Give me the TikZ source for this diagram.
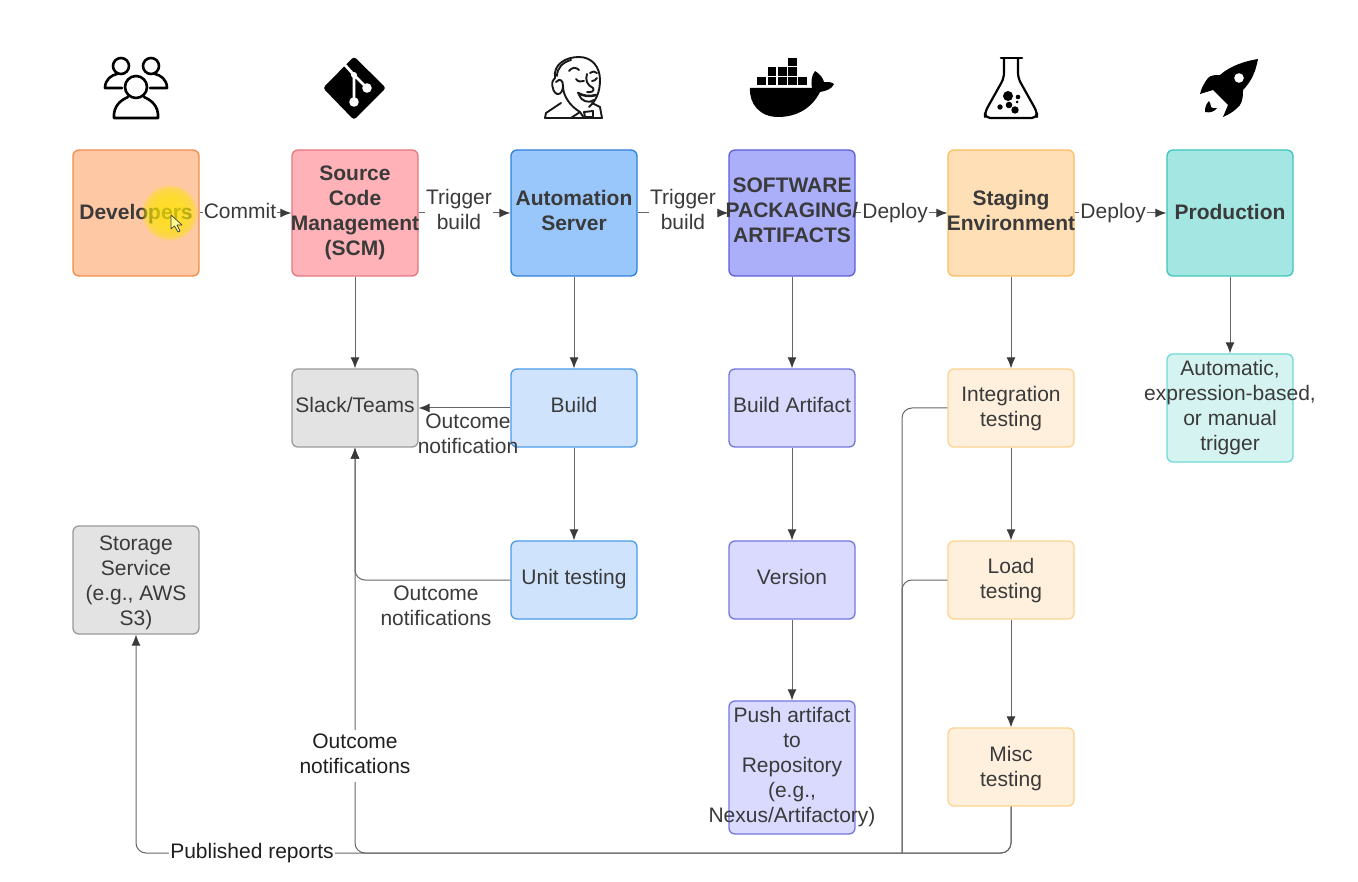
\documentclass[tikz,border=0pt]{standalone}
\usepackage{fontspec}
\setmainfont{Liberation Sans}
\usetikzlibrary{arrows.meta}
\definecolor{txt}{HTML}{3A3A3A}
\definecolor{lnk}{HTML}{666666}
% #1 = twice the downward shift of the text inside its shape
\newcommand\mlab[2][0pt]{\vbox{\kern#1\hbox{\makebox[0pt]{\begin{tabular}{@{}c@{}}#2\end{tabular}}}}}
\tikzset{
  box/.style={draw,rounded corners=6pt,line width=1.3pt,minimum width=126pt,inner sep=0pt,text=txt,
    font=\fontsize{21}{25}\selectfont},
  big/.style={box,minimum height=126pt,font=\fontsize{21}{25}\selectfont\bfseries},
  mid/.style={box,minimum height=78pt},
  devc/.style={fill=dF,draw=dB}, scmc/.style={fill=sF,draw=sB}, autoc/.style={fill=aF,draw=aB},
  packc/.style={fill=pF,draw=pB}, stagc/.style={fill=gF,draw=gB}, prodc/.style={fill=rF,draw=rB},
  greyc/.style={fill=yF,draw=yB}, autol/.style={fill=alF,draw=alB}, packl/.style={fill=plF,draw=plB},
  stagl/.style={fill=glF,draw=glB}, prodl/.style={fill=rlF,draw=rlB},
  conn/.style={draw=lnk,line width=1pt,-{Latex[length=11pt,width=9pt,color=txt]}},
  plain/.style={draw=lnk,line width=1pt},
  elab/.style={fill=white,inner sep=1pt,text=txt,align=center,font=\fontsize{21}{25}\selectfont},
  flab/.style={text=txt,inner sep=0pt,font=\fontsize{21}{25}\selectfont},
  dlab/.style={elab,text=black!88},
  ico/.style={line width=2.6pt,draw=black,line join=round,line cap=round},
  halo/.style={fill=yellow!90!orange,opacity=.14},
  x=1pt,y=-1pt
}
\definecolor{dF}{HTML}{FFC8A5}\definecolor{dB}{HTML}{EF8D4E}
\definecolor{sF}{HTML}{FFB3B8}\definecolor{sB}{HTML}{E5767F}
\definecolor{aF}{HTML}{99C7FB}\definecolor{aB}{HTML}{2F7FD9}
\definecolor{pF}{HTML}{ABAFFA}\definecolor{pB}{HTML}{5C5FD6}
\definecolor{gF}{HTML}{FFDFB5}\definecolor{gB}{HTML}{FDBD62}
\definecolor{rF}{HTML}{A4E6E2}\definecolor{rB}{HTML}{3EC4BE}
\definecolor{yF}{HTML}{E3E3E3}\definecolor{yB}{HTML}{9B9B9B}
\definecolor{alF}{HTML}{CFE3FD}\definecolor{alB}{HTML}{4C9CEB}
\definecolor{plF}{HTML}{D9DAFE}\definecolor{plB}{HTML}{7676E0}
\definecolor{glF}{HTML}{FFF0DE}\definecolor{glB}{HTML}{FCD38F}
\definecolor{rlF}{HTML}{D5F3F1}\definecolor{rlB}{HTML}{6FDAD5}
\begin{document}
\begin{tikzpicture}
\useasboundingbox[fill=white] (0,0) rectangle (1358,882);

% ---- icons
% users
\draw[ico] (121,66) circle (8);
\draw[ico] (151,66) circle (8);
\draw[ico] (122,88) -- (105,88) .. controls (105,79) and (112,75) .. (117,74);
\draw[ico] (150,88) -- (167,88) .. controls (167,79) and (160,75) .. (155,74);
\draw[ico] (136,87) circle (11);
\draw[ico] (114,118) -- (158,118) .. controls (159,106) and (151,100) .. (144,97)
   (128,97) .. controls (121,100) and (113,106) .. (114,118);
% git
\fill[black,rounded corners=3pt] (354,56.5) -- (386,88) -- (354,120) -- (323,88) -- cycle;
\draw[white,line width=2.8pt] (345,65) -- (354,75) -- (354,102) (354,75) -- (367,88);
\fill[white] (354,102) circle (4.8) (367,88) circle (4.8) (354,75) circle (3);
% jenkins
\begin{scope}[line width=1.9pt,draw=black!90,line join=round,line cap=round]
\draw (555,78) .. controls (553,64) and (566,57) .. (579,57)
   .. controls (592,57) and (600,67) .. (600,80)
   .. controls (600,92) and (596,101) .. (589,107);
\draw (557,76) .. controls (557,68) and (563,62) .. (571,60);
\draw (555,78) .. controls (551,80) and (551,91) .. (557,94) .. controls (561,95) and (563,90) .. (563,86);
\draw (563,86) .. controls (563,80) and (560,78) .. (556,82);
\draw (563,86) .. controls (563,96) and (570,106) .. (580,112);
\draw (569,71) .. controls (572,67) and (576,67) .. (579,70);
\draw (576,79) .. controls (578,82) and (581,82) .. (584,81);
\draw (590,73) .. controls (592,71) and (595,71) .. (597,73);
\draw (592,81) .. controls (594,81) and (596,80) .. (597,78);
\draw (587,74) .. controls (585,80) and (587,85) .. (593,88) .. controls (595,91) and (591,93) .. (587,92);
\draw[line width=2.5pt] (578,93) .. controls (583,96) and (590,97) .. (596,95);
\draw (579,95) .. controls (581,101) and (589,104) .. (594,100);
\draw (545,118) -- (602,118) -- (600,107) -- (592,103);
\draw (545,118) -- (546,113) -- (561,103);
\draw (571,118) -- (580,112) -- (584,118);
\draw (584,112) -- (593,111) -- (593,117) -- (585,117) -- cycle;
\end{scope}
% docker
\fill[black] (750,88) -- (812,88) .. controls (811,83) and (811,76) .. (815,71)
   .. controls (820,74) and (823,78) .. (824,82) .. controls (828,82) and (832,82) .. (834,84)
   .. controls (832,89) and (826,91) .. (820,92) .. controls (812,108) and (797,117) .. (778,117)
   .. controls (760,117) and (749,104) .. (750,88) -- cycle;
\foreach \cx/\cy in {757/77,767.5/77,778/77,788/77,798/77,767.5/67.5,778/67.5,788/67.5,788/58}
  \fill[black] (\cx,\cy) rectangle ++(8.6,8.4);
% flask
\draw[ico] (1001,58) -- (1022,58);
\draw[ico,line width=2.2pt,rounded corners=5pt] (1004,58) -- (1004,78) -- (985,112) -- (985,118) -- (1037,118) -- (1037,112) -- (1018,78) -- (1018,58);
\fill[black] (1008,96) circle (5) (1018,97) circle (2.3) (1000,107) circle (2.7)
   (1009,105) circle (3.3) (1017,102) circle (1.5) (1015,110) circle (3.7);
% rocket
\fill[black] (1258,59) .. controls (1245,61) and (1230,66) .. (1220,75)
   .. controls (1215,75) and (1211,75) .. (1208,78) .. controls (1204,83) and (1201,89) .. (1200,94)
   -- (1213,90) -- (1228,105) -- (1223,117)
   .. controls (1230,114) and (1236,110) .. (1240,105)
   .. controls (1243,100) and (1243,95) .. (1243,90)
   .. controls (1252,81) and (1256,70) .. (1258,59) -- cycle;
\fill[white] (1239,78) circle (4.8);
\fill[black] (1209,101) .. controls (1205,105) and (1205,109) .. (1205,112)
   .. controls (1210,113) and (1214,112) .. (1217,108)
   .. controls (1214,109) and (1212,108) .. (1211,107) .. controls (1211,105) and (1210,103) .. (1209,101) -- cycle;

% ---- top row
\node[big,devc] (dev) at (136,213) {\mlab[4pt]{Developers}};
\node[big,scmc] (scm) at (355,213) {\mlab{Source\\Code\\Management\\(SCM)}};
\node[big,autoc] (auto) at (574,213) {\mlab{Automation\\Server}};
\node[big,packc] (pack) at (792,213) {\mlab{SOFTWARE\\PACKAGING/\\ARTIFACTS}};
\node[big,stagc] (stag) at (1011,213) {\mlab{Staging\\Environment}};
\node[big,prodc] (prod) at (1230,213) {\mlab[4pt]{Production}};
% ---- second row
\node[mid,greyc] (slack) at (355,408) {\mlab{Slack/Teams}};
\node[mid,autol] (build) at (574,408) {\mlab{Build}};
\node[mid,packl] (bart) at (792,408) {\mlab{Build Artifact}};
\node[mid,stagl] (integ) at (1011,408) {\mlab[2pt]{Integration\\testing}};
\node[box,prodl,minimum height=108pt] (trig) at (1230,408) {\mlab{Automatic,\\expression-based,\\or manual\\trigger}};
% ---- third row
\node[box,greyc,minimum height=108pt] (store) at (136,580) {\mlab[6pt]{Storage\\Service\\(e.g., AWS\\S3)}};
\node[mid,autol] (unit) at (574,580) {\mlab[-2pt]{Unit testing}};
\node[mid,packl] (ver) at (792,580) {\mlab[-2pt]{Version}};
\node[mid,stagl] (load) at (1011,580) {\mlab[2pt]{Load\\testing}};
% ---- bottom
\node[box,packl,minimum height=133pt] (push) at (792,767.5) {\mlab[-1pt]{Push artifact\\to\\Repository\\(e.g.,\\Nexus/Artifactory)}};
\node[mid,stagl] (misc) at (1011,767) {\mlab[4pt]{Misc\\testing}};

% ---- highlight + cursor
\foreach \hr in {28,27,26,25,24,22,20,17,13}
  \fill[halo] (170,213) circle (\hr);
\fill[yellow!45!white,draw=black!75,line width=.7pt,line join=round] (171,215) -- (171,229) -- (174.5,226) -- (178,232) -- (180,231) -- (177,225) -- (182,225) -- cycle;

% ---- junction coordinates
\coordinate (joinA) at (902,853);
\coordinate (slackBend) at (355,853);
\coordinate (storeBend) at (136,853);

% ---- connectors
\draw[conn] (dev) -- node[elab,pos=.44,yshift=2.5pt] (l1) {Commit} (scm);
\draw[conn] (scm) -- node[elab,pos=.44,yshift=3.5pt] (l2) {Trigger\\build} (auto);
\draw[conn] (auto) -- node[elab,pos=.5,yshift=3.5pt] (l3) {Trigger\\build} (pack);
\draw[conn] (pack) -- node[elab,pos=.43,yshift=-0.5pt] (l4) {Deploy} (stag);
\draw[conn] (stag) -- node[elab,pos=.42,yshift=-0.5pt] (l5) {Deploy} (prod);
\draw[conn] (scm) -- (slack);
\draw[conn] (auto) -- (build);
\draw[conn] (pack) -- (bart);
\draw[conn] (stag) -- (integ);
\draw[conn] (prod) -- (trig);
\draw[conn] (build) -- (unit);
\draw[conn] (bart) -- (ver);
\draw[conn] (ver) -- (push);
\draw[conn] (integ) -- (load);
\draw[conn] (load) -- (misc);
\draw[conn] (build) -- (slack);
\draw[conn,rounded corners=10pt] (unit.west) -| (slack.south);
\draw[conn,rounded corners=10pt] (misc.south) |- (slackBend) -- (slack.south);
\draw[conn,rounded corners=10pt] (misc.south) |- (storeBend) -- (store.south);
\draw[plain,rounded corners=10pt] (integ.west) -| (joinA);
\draw[plain,rounded corners=10pt] (load.west) -| (joinA);

% ---- connector labels
\node[flab] (l6) at (468,436) {\mlab{Outcome\\notification}};
\node[flab] (l7) at (436,608) {\mlab{Outcome\\notifications}};
\node[dlab,minimum width=100pt,minimum height=50pt] (l8) at (355,756) {\mlab{Outcome\\notifications}};
\node[dlab] (l9) at (252,853) {Published reports};
\end{tikzpicture}
\end{document}
